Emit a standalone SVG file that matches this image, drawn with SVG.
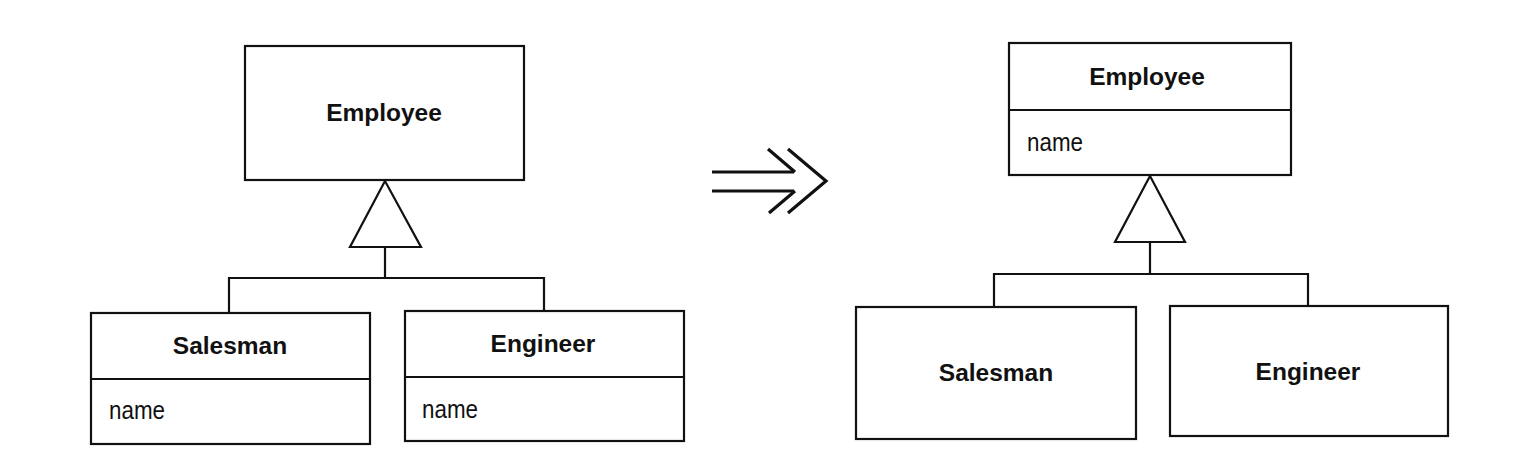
<svg xmlns="http://www.w3.org/2000/svg" width="1522" height="466" viewBox="0 0 1522 466">
<style>
.box{fill:#fff;stroke:#111;stroke-width:2.2}
.ln{fill:none;stroke:#111;stroke-width:2.2}
.tri{fill:#fff;stroke:#111;stroke-width:2.2;stroke-linejoin:miter}
.arr{fill:none;stroke:#111;stroke-width:3.2;stroke-linecap:butt;stroke-linejoin:miter}
.t{font-family:"Liberation Sans",Arial,Helvetica,sans-serif;font-weight:bold;font-size:24.5px;fill:#111;text-anchor:middle}
.a{font-family:"Liberation Sans",Arial,Helvetica,sans-serif;font-size:26px;fill:#111}
</style>
<rect width="1522" height="466" fill="#fff"/>

<g id="connectors">
  <!-- left hierarchy -->
  <path class="ln" d="M385 247 V278 M229 313 V278 H544 V311"/>
  <polygon class="tri" points="385,181 350,247 421,247"/>
  <!-- right hierarchy -->
  <path class="ln" d="M1150 242 V274 M994 307 V274 H1308 V306"/>
  <polygon class="tri" points="1150,176 1115,242 1185,242"/>
  <!-- transformation arrow -->
  <g id="refactor-arrow">
    <path class="arr" d="M712 172 H794 M712 191 H794"/>
    <path class="arr" d="M768 149 L795 172 M795 191 L769 213"/>
    <path class="arr" d="M788 149 L826 181 L788 213"/>
  </g>
</g>

<g id="left-employee">
  <rect class="box" x="245" y="46" width="279" height="134"/>
  <text class="t" x="384" y="121">Employee</text>
</g>
<g id="left-salesman">
  <rect class="box" x="91" y="313" width="279" height="131"/>
  <line class="ln" x1="91" y1="379" x2="370" y2="379"/>
  <text class="t" x="230" y="354">Salesman</text>
  <text class="a" x="109" y="419" textLength="56" lengthAdjust="spacingAndGlyphs">name</text>
</g>
<g id="left-engineer">
  <rect class="box" x="405" y="311" width="279" height="130"/>
  <line class="ln" x1="405" y1="377" x2="684" y2="377"/>
  <text class="t" x="543" y="352">Engineer</text>
  <text class="a" x="422" y="418" textLength="56" lengthAdjust="spacingAndGlyphs">name</text>
</g>

<g id="right-employee">
  <rect class="box" x="1009" y="43" width="282" height="132"/>
  <line class="ln" x1="1009" y1="110" x2="1291" y2="110"/>
  <text class="t" x="1147" y="85">Employee</text>
  <text class="a" x="1027" y="151" textLength="56" lengthAdjust="spacingAndGlyphs">name</text>
</g>
<g id="right-salesman">
  <rect class="box" x="856" y="307" width="280" height="132"/>
  <text class="t" x="996" y="381">Salesman</text>
</g>
<g id="right-engineer">
  <rect class="box" x="1170" y="306" width="278" height="130"/>
  <text class="t" x="1308" y="380">Engineer</text>
</g>
</svg>
